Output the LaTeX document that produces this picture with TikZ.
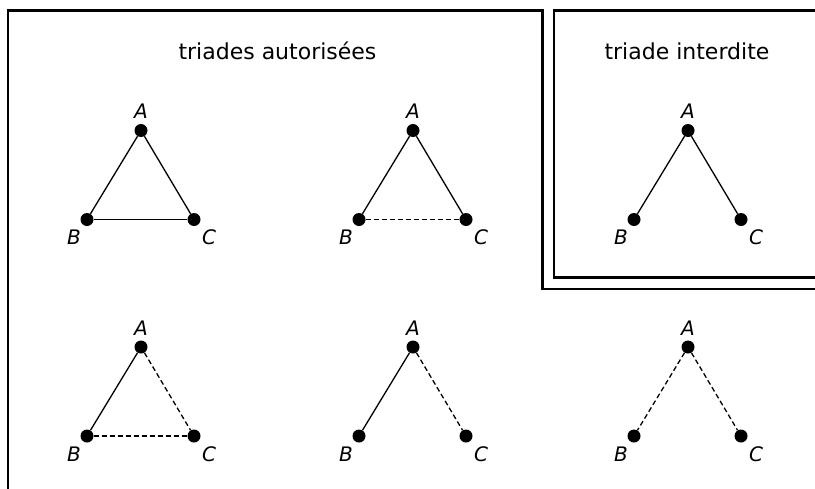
\documentclass[tikz,border=0pt]{standalone}
\usepackage{fontspec}
\setmainfont{DejaVu Sans}
\begin{document}
\begin{tikzpicture}[x=1pt,y=-1pt,
  vtx/.style={circle,fill=black,inner sep=0pt,minimum size=13pt},
  lbl/.style={inner sep=0pt,font=\fontsize{20}{23}\selectfont\itshape},
  ttl/.style={inner sep=0pt,font=\fontsize{22}{26}\selectfont},
  edge/.style={line width=1.3pt},
  dedge/.style={line width=1.3pt,dash pattern=on 5pt off 3pt},
  frame/.style={line width=2.2pt}]
\useasboundingbox (0,0) rectangle (815,488);
% frames
\draw[frame] (830,289) -- (542.5,289) -- (542.5,10.5) -- (8,10.5) -- (8,500);
\draw[frame] (830,10.5) -- (554,10.5) -- (554,277.5) -- (830,277.5);
% titles
\node[ttl] (t1) at (277.5,51) {triades autorisées};
\node[ttl] (t2) at (687,51) {triade interdite};
% vertices
\foreach \n/\x/\y in {1/141/130.5, 2/413/130.5, 3/688/130.5, 4/141/347, 5/413/347, 6/688/347}{
  \node[vtx] (a\n) at (\x,\y) {};
  \node[vtx] (b\n) at (\x-54,\y+89) {};
  \node[vtx] (c\n) at (\x+53,\y+89) {};
  \node[lbl] (la\n) at (\x,\y-19) {A};
  \node[lbl] (lb\n) at (\x-67,\y+107) {B};
  \node[lbl] (lc\n) at (\x+68,\y+107) {C};
}
% edges
\draw[edge] (a1) -- (b1); \draw[edge] (a1) -- (c1); \draw[edge] (b1) -- (c1);
\draw[edge] (a2) -- (b2); \draw[edge] (a2) -- (c2); \draw[dedge] (b2) -- (c2);
\draw[edge] (a3) -- (b3); \draw[edge] (a3) -- (c3);
\draw[edge] (a4) -- (b4); \draw[dedge] (a4) -- (c4); \draw[dedge] (b4) -- (c4);
\draw[edge] (a5) -- (b5); \draw[dedge] (a5) -- (c5);
\draw[dedge] (a6) -- (b6); \draw[dedge] (a6) -- (c6);
\end{tikzpicture}
\end{document}
